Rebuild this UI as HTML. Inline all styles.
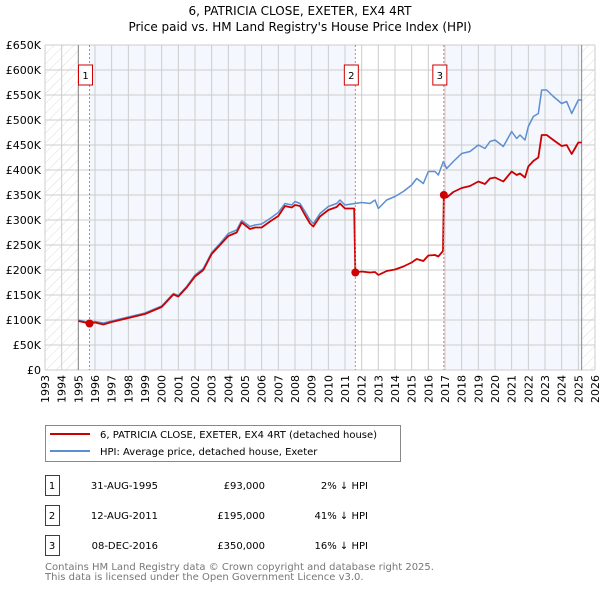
<!DOCTYPE html>
<html><head><meta charset="utf-8"><style>
body{margin:0;background:#fff;}
svg{display:block;font-family:"DejaVu Sans","Liberation Sans",sans-serif;}
</style></head><body>
<svg id="chart" width="600" height="590" viewBox="0 0 600 590">
<defs>
<pattern id="hatch" width="7" height="7" patternUnits="userSpaceOnUse" patternTransform="rotate(45)"><line x1="0" y1="0" x2="0" y2="7" stroke="#d4d4d4" stroke-width="0.8"/></pattern>
<clipPath id="plotclip"><rect x="45" y="45" width="550" height="325"/></clipPath>
</defs>
<text x="300" y="15" text-anchor="middle" font-size="12">6, PATRICIA CLOSE, EXETER, EX4 4RT</text>
<text x="300" y="31" text-anchor="middle" font-size="12">Price paid vs. HM Land Registry's House Price Index (HPI)</text>
<g id="bg"></g>
<g id="grid"></g>
<g id="series" clip-path="url(#plotclip)"></g>
<g id="axes"></g>
<g>
<rect x="45.5" y="425.5" width="355" height="36" fill="#fff" stroke="#888"/>
<line x1="50" y1="434" x2="90" y2="434" stroke="#cc0000" stroke-width="2"/>
<text x="100" y="438" font-size="10">6, PATRICIA CLOSE, EXETER, EX4 4RT (detached house)</text>
<line x1="50" y1="451" x2="90" y2="451" stroke="#5b8fd1" stroke-width="2"/>
<text x="100" y="455" font-size="10">HPI: Average price, detached house, Exeter</text>
</g>
<g id="table" font-size="10"></g>
<text x="45" y="570" font-size="10" fill="#777">Contains HM Land Registry data © Crown copyright and database right 2025.</text>
<text x="45" y="580" font-size="10" fill="#777">This data is licensed under the Open Government Licence v3.0.</text>
</svg>
<script>
const hpiYears=[1995,1995.5,1996,1996.5,1997,1998,1999,2000,2000.7,2001,2001.5,2002,2002.5,2003,2003.5,2004,2004.5,2004.8,2005.3,2005.6,2006,2006.5,2007,2007.4,2007.8,2008,2008.3,2008.6,2008.9,2009.1,2009.5,2010,2010.5,2010.7,2011,2011.6,2012,2012.5,2012.8,2013,2013.5,2014,2014.5,2015,2015.3,2015.7,2016,2016.4,2016.6,2016.9,2017.1,2017.5,2018,2018.5,2019,2019.4,2019.7,2020,2020.5,2021,2021.3,2021.5,2021.8,2022,2022.3,2022.6,2022.8,2023.1,2023.5,2024,2024.3,2024.6,2025,2025.2];
const hpiValues=[100,96,97,94,98,106,114,128,153,149,167,190,203,235,253,273,280,299,287,290,292,303,315,333,330,337,333,317,300,293,313,327,333,340,330,333,335,333,340,323,340,347,357,370,383,373,397,397,390,417,403,417,433,437,450,443,457,460,447,477,463,470,460,487,507,513,560,560,547,533,537,513,540,540];
const priceYears=[1995,1995.67,1996,1996.5,1997,1998,1999,2000,2000.7,2001,2001.5,2002,2002.5,2003,2003.5,2004,2004.5,2004.8,2005.3,2005.6,2006,2006.5,2007,2007.4,2007.8,2008,2008.3,2008.6,2008.9,2009.1,2009.5,2010,2010.5,2010.7,2011,2011.55,2011.62,2012,2012.5,2012.8,2013,2013.5,2014,2014.5,2015,2015.3,2015.7,2016,2016.4,2016.6,2016.88,2016.93,2017.1,2017.5,2018,2018.5,2019,2019.4,2019.7,2020,2020.5,2021,2021.3,2021.5,2021.8,2022,2022.3,2022.6,2022.8,2023.1,2023.5,2024,2024.3,2024.6,2025,2025.2];
const priceValues=[98,93,95,91,96,104,112,126,151,147,165,187,200,232,250,268,275,295,282,285,285,297,308,328,325,330,328,310,293,287,307,320,326,333,323,323,195,197,195,196,190,198,201,207,215,222,218,229,230,227,238,350,345,356,364,368,377,372,383,385,377,397,390,393,385,407,418,425,470,470,460,448,450,432,455,455];
const saleLabels=["1","2","3"];
const saleYears=[1995.67,2011.62,2016.93];
const saleValues=[93,195,350];
const saleDates=["31-AUG-1995","12-AUG-2011","08-DEC-2016"];
const salePrices=["£93,000","£195,000","£350,000"];
const saleDiffs=["2% ↓ HPI","41% ↓ HPI","16% ↓ HPI"];
const yTicks=[0,50,100,150,200,250,300,350,400,450,500,550,600,650];
const yTickLabels=["£0","£50K","£100K","£150K","£200K","£250K","£300K","£350K","£400K","£450K","£500K","£550K","£600K","£650K"];
const xTicks=[1993,1994,1995,1996,1997,1998,1999,2000,2001,2002,2003,2004,2005,2006,2007,2008,2009,2010,2011,2012,2013,2014,2015,2016,2017,2018,2019,2020,2021,2022,2023,2024,2025,2026];
const dataStart=1995, dataEnd=2025.2;

const NS="http://www.w3.org/2000/svg";
const X0=45,X1=595,Y0=370,Y1=45;
const x=v=>X0+(v-1993)/(2026-1993)*(X1-X0);
const y=v=>Y0-v/650*(Y0-Y1);
function mk(tag,attrs,parent){const e=document.createElementNS(NS,tag);for(const k in attrs)e.setAttribute(k,attrs[k]);parent.appendChild(e);return e;}
const bg=document.getElementById('bg'),grid=document.getElementById('grid'),ser=document.getElementById('series'),axes=document.getElementById('axes'),tbl=document.getElementById('table');

let r=mk('rect',{x:X0,y:Y1,width:X1-X0,height:Y0-Y1,fill:'#fff'},bg);


r=mk('rect',{x:X0,y:Y1,width:x(dataStart)-X0,height:Y0-Y1,fill:'url(#hatch)'},bg);


r=mk('rect',{x:x(dataEnd),y:Y1,width:X1-x(dataEnd),height:Y0-Y1,fill:'url(#hatch)'},bg);


r=mk('rect',{x:x(saleYears[0]),y:Y1,width:x(saleYears[1])-x(saleYears[0]),height:Y0-Y1,fill:'#f4f7fd'},bg);


r=mk('rect',{x:x(saleYears[2]),y:Y1,width:x(dataEnd)-x(saleYears[2]),height:Y0-Y1,fill:'#f4f7fd'},bg);



yTicks.forEach((t,i)=>{
 const l=mk('line',{x1:X0,x2:X1,y1:y(t),y2:y(t),stroke:'#ccc','stroke-width':1},grid);
 
 
 const tx=mk('text',{x:X0-4,y:y(t)+4,'text-anchor':'end','font-size':11},axes);
 tx.textContent=yTickLabels[i];
 
 
});
xTicks.forEach(t=>{
 const l=mk('line',{x1:x(t),x2:x(t),y1:Y1,y2:Y0,stroke:'#ccc','stroke-width':1},grid);
 
 
 const tx=mk('text',{x:0,y:0,'text-anchor':'end','font-size':11,transform:`translate(${x(t)+4},${Y0+5}) rotate(-90)`},axes);
 tx.textContent=t;
 
 
});
let b=mk('line',{x1:x(dataStart),x2:x(dataStart),y1:Y1,y2:Y0,stroke:'#888'},grid);


b=mk('line',{x1:x(dataEnd),x2:x(dataEnd),y1:Y1,y2:Y0,stroke:'#888'},grid);



const hp=mk('polyline',{points:hpiYears.map((v,i)=>x(v)+','+y(hpiValues[i])).join(' '),fill:'none',stroke:'#5b8fd1','stroke-width':1.5,'stroke-linejoin':'round'},ser);


const pp=mk('polyline',{points:priceYears.map((v,i)=>x(v)+','+y(priceValues[i])).join(' '),fill:'none',stroke:'#cc0000','stroke-width':1.8,'stroke-linejoin':'round'},ser);



saleYears.forEach((s,i)=>{
 const l=mk('line',{x1:x(s),x2:x(s),y1:Y1,y2:Y0,stroke:'#f07070','stroke-dasharray':'2,2'},ser);
 
 
 const c=mk('circle',{cx:x(s),cy:y(saleValues[i]),r:4,fill:'#cc0000'},ser);
 
 
 const bx=mk('rect',{x:x(s)-11,y:65,width:14,height:20,fill:'#fff',stroke:'#cc0000'},axes);
 
 
 const t=mk('text',{x:x(s)-4,y:79,'text-anchor':'middle','font-size':10},axes);
 t.textContent=saleLabels[i];
 
 
 const ry=475+i*30;
 const tb=mk('rect',{x:45.5,y:ry+0.5,width:14,height:20,fill:'#fff',stroke:'#cc0000'},tbl);
 
 
 const cells=[[52,'middle',saleLabels[i]],[158,'end',saleDates[i]],[265,'end',salePrices[i]],[368,'end',saleDiffs[i]]];
 cells.forEach(cl=>{
  const tt=mk('text',{x:cl[0],y:ry+14,'text-anchor':cl[1]},tbl);
  tt.textContent=cl[2];
  
  
 });
});
</script>
</body></html>
